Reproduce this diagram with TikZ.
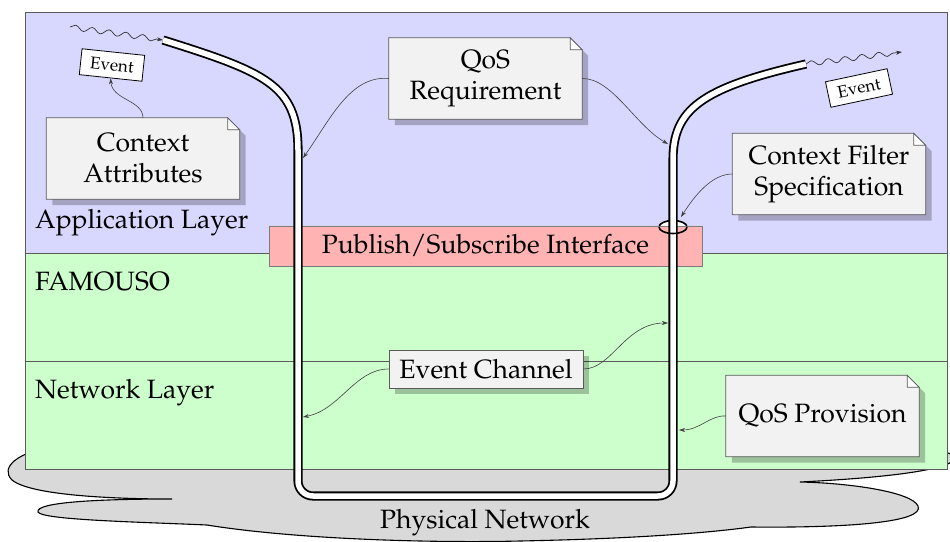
\documentclass[tikz,border=0pt]{standalone}
\usepackage[T1]{fontenc}
\renewcommand{\rmdefault}{ppl}
\usetikzlibrary{arrows.meta,decorations.pathmorphing,shadows}
\definecolor{applc}{RGB}{216,216,255}
\definecolor{famc}{RGB}{204,255,204}
\definecolor{pinkc}{RGB}{255,179,179}
\definecolor{notec}{RGB}{242,242,242}
\definecolor{cloudc}{RGB}{217,217,217}
\definecolor{edgec}{RGB}{90,90,90}
\pgfdeclarelayer{backl}
\pgfdeclarelayer{notel}
\pgfsetlayers{backl,notel,main}
\tikzset{
  big/.style={font=\fontsize{26.5}{31}\selectfont},
  notenode/.style={big, align=center, inner sep=0pt, minimum width=193pt, minimum height=81pt},
  notefill/.style={fill=notec, draw=edgec, line width=0.8pt},
  foldfill/.style={fill=white, draw=edgec, line width=0.8pt},
  shadowc/.style={fill=black, opacity=0.24},
  layertext/.style={big, anchor=base west, inner sep=0pt},
  evbox/.style={draw=black, fill=white, line width=0.8pt, font=\fontsize{17}{19}\selectfont, minimum width=63pt, minimum height=26pt, inner sep=2pt},
  pipe/.style={draw=black, line width=1.8pt, double=white, double distance=5.5pt},
  thinarrow/.style={draw=black!75, line width=0.6pt, -{Stealth[length=6pt,width=4pt]}},
  wavy/.style={draw=black!80, line width=0.7pt, decorate, decoration={snake, amplitude=2.6pt, segment length=17pt, post length=5pt}, -{Stealth[length=6pt,width=4pt]}},
}
\newcommand{\drawnote}[1]{%
  \fill[shadowc] ([shift={(6pt,-6pt)}]#1.south west) -- ([shift={(6pt,-6pt)}]#1.north west) -- ([shift={(-6pt,-6pt)}]#1.north east) -- ([shift={(6pt,-18pt)}]#1.north east) -- ([shift={(6pt,-6pt)}]#1.south east) -- cycle;
  \filldraw[notefill] (#1.south west) -- (#1.north west) -- ([xshift=-12pt]#1.north east) -- ([yshift=-12pt]#1.north east) -- (#1.south east) -- cycle;
  \filldraw[foldfill] ([xshift=-12pt]#1.north east) -- ([xshift=-12pt,yshift=-12pt]#1.north east) -- ([yshift=-12pt]#1.north east) -- cycle;
}
\begin{document}
\begin{tikzpicture}[x=1pt,y=-1pt]
\useasboundingbox (0,0) rectangle (950,541);

% named points
\coordinate (p1) at (163,40);
\coordinate (p2) at (806,64);
\coordinate (w1) at (70,27);
\coordinate (w2) at (902,52);
\coordinate (pe) at (673,227);
\coordinate (tqrl) at (303,158);
\coordinate (tqrr) at (668,144);
\coordinate (tcf) at (681,217);
\coordinate (tecl) at (303,417);
\coordinate (tecr) at (668,323);
\coordinate (tqp) at (679,430);

\begin{pgfonlayer}{backl}
  % physical network cloud
  \filldraw[fill=cloudc, draw=black, line width=1.1pt]
    (60,445) .. controls (15,452) and (0,468) .. (12,480)
    .. controls (30,495) and (110,499) .. (172,499)
    .. controls (100,499) and (35,502) .. (38,512)
    .. controls (42,520) and (140,522) .. (207,525)
    .. controls (300,540) and (440,543) .. (520,541)
    .. controls (620,539) and (700,534) .. (751,527)
    .. controls (850,528) and (925,522) .. (918,506)
    .. controls (912,492) and (850,483) .. (800,482)
    .. controls (880,478) and (962,470) .. (955,455)
    -- (900,440) -- cycle;
  % layers
  \filldraw[fill=applc, draw=edgec, line width=0.8pt] (25,12) rectangle (947,253);
  \filldraw[fill=famc, draw=edgec, line width=0.8pt] (25,253) rectangle (947,361);
  \filldraw[fill=famc, draw=edgec, line width=0.8pt] (25,361) rectangle (947,469);
  % ring
  \filldraw[fill=white, draw=black, line width=1.6pt] (pe) ellipse [x radius=14pt, y radius=6.5pt];
  % publish/subscribe interface
  \node[big, fill=pinkc, draw=edgec!80, line width=0.6pt, minimum width=433pt, minimum height=40pt, inner sep=0pt] (psi) at (485.5,246) {Publish/Subscribe Interface};
  % pipe
  \draw[pipe] (p1) .. controls (265,72) and (298,85) .. (298,150) -- (298,481)
    .. controls (298,489.3) and (304.7,496) .. (313,496) -- (658,496)
    .. controls (666.3,496) and (673,489.3) .. (673,481) -- (673,160)
    .. controls (673,110) and (700,88) .. (p2);
  \draw[black, line width=1.6pt] ([xshift=-14pt]pe) arc[start angle=180, end angle=360, x radius=14pt, y radius=6.5pt];
\end{pgfonlayer}

% layer labels
\node[layertext] (lapp) at (35,228) {Application Layer};
\node[layertext] (lfam) at (35,290) {FAMOUSO};
\node[layertext] (lnet) at (35,398) {Network Layer};
\node[big, anchor=base, inner sep=0pt] (lphy) at (485,528) {Physical Network};

% notes
\node[notenode] (ca) at (143,158.5) {Context\\Attributes};
\node[notenode] (qr) at (485.5,78.5) {QoS\\Requirement};
\node[notenode] (cf) at (829,174) {Context Filter\\Specification};
\node[notenode] (qp) at (822.5,416) {QoS Provision};
\begin{pgfonlayer}{notel}
  \drawnote{ca}
  \drawnote{qr}
  \drawnote{cf}
  \drawnote{qp}
\end{pgfonlayer}

% event channel
\node[big, draw=edgec, fill=notec, line width=0.8pt, minimum width=194pt, minimum height=38pt, inner sep=0pt,
  drop shadow={shadow xshift=6pt, shadow yshift=-6pt, fill=black, opacity=0.24}] (ec) at (486,369) {Event Channel};

% events
\node[evbox, rotate=-6] (ev1) at (112,65) {Event};
\node[evbox, rotate=12] (ev2) at (859,88) {Event};

% wavy arrows
\draw[wavy] (w1) -- (p1);
\draw[wavy] (p2) -- (w2);

% thin arrows
\draw[thinarrow] (ca.north) .. controls (143,100) and (112,100) .. (ev1.south);
\draw[thinarrow] (qr.west) .. controls (350,75) and (330,120) .. (tqrl);
\draw[thinarrow] (qr.east) .. controls (612,78) and (635,125) .. (tqrr);
\draw[thinarrow] (cf.west) .. controls (712,174) and (695,195) .. (tcf);
\draw[thinarrow] (ec.west) .. controls (355,369) and (340,410) .. (tecl);
\draw[thinarrow] (ec.east) .. controls (612,369) and (625,323) .. (tecr);
\draw[thinarrow] (qp.west) .. controls (710,415) and (700,430) .. (tqp);
\end{tikzpicture}
\end{document}
